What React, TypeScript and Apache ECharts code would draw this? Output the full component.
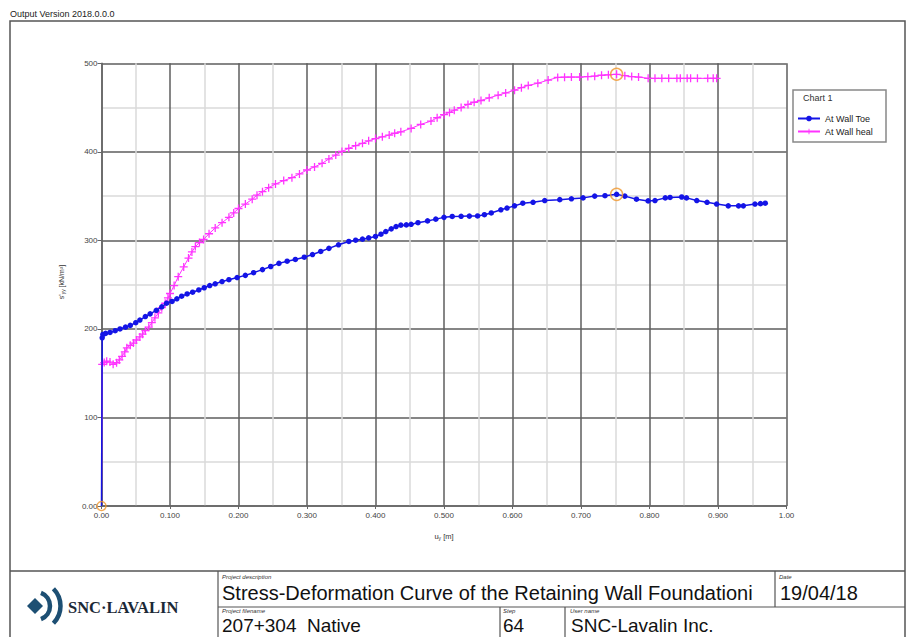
import React, { useEffect, useRef } from "react";
import * as echarts from "echarts";

// ---- Data ----
const toeX = [0, 0.001, 0.002, 0.006, 0.0124, 0.02, 0.027, 0.035, 0.042, 0.05, 0.056, 0.064, 0.071, 0.08, 0.088, 0.095, 0.103, 0.11, 0.117, 0.125, 0.133, 0.142, 0.15, 0.158, 0.166, 0.176, 0.186, 0.198, 0.21, 0.222, 0.235, 0.247, 0.259, 0.271, 0.283, 0.296, 0.308, 0.32, 0.332, 0.346, 0.361, 0.371, 0.381, 0.39, 0.4, 0.408, 0.415, 0.423, 0.43, 0.437, 0.445, 0.452, 0.462, 0.476, 0.488, 0.5, 0.512, 0.525, 0.537, 0.549, 0.559, 0.569, 0.583, 0.592, 0.603, 0.615, 0.63, 0.647, 0.669, 0.686, 0.703, 0.72, 0.735, 0.752, 0.764, 0.781, 0.798, 0.808, 0.823, 0.83, 0.847, 0.854, 0.869, 0.884, 0.898, 0.915, 0.93, 0.937, 0.954, 0.962, 0.969];
const toeY = [0, 190, 193.7, 195, 196, 198, 200, 202, 204, 207, 210, 214, 217, 221, 225, 229, 231, 234, 237, 239.5, 241.5, 244, 246.5, 249, 251, 253.5, 255.6, 258, 260.5, 263.5, 267, 270.5, 274, 276.5, 278.5, 281, 284, 287.5, 291, 295, 298.8, 300.2, 301.4, 302.8, 304.4, 307, 310, 313, 315.6, 317.2, 317.5, 318.2, 320, 322, 324, 326, 327, 327.2, 327.4, 327.6, 329, 331, 334.5, 336.5, 339, 342, 343, 345, 346, 347, 348, 350, 350.5, 352, 350, 346.5, 344.6, 345, 348, 348.5, 349, 348, 345, 343, 341, 339, 339, 339, 341, 341.5, 342];

const healX = [0, 0.001, 0.004, 0.0076, 0.0124, 0.017, 0.022, 0.026, 0.03, 0.034, 0.037, 0.042, 0.0466, 0.051, 0.056, 0.06, 0.064, 0.069, 0.0735, 0.078, 0.083, 0.088, 0.093, 0.097, 0.1, 0.106, 0.112, 0.12, 0.127, 0.132, 0.137, 0.143, 0.149, 0.157, 0.166, 0.176, 0.186, 0.193, 0.2, 0.21, 0.22, 0.227, 0.235, 0.244, 0.254, 0.266, 0.278, 0.289, 0.3, 0.311, 0.322, 0.332, 0.342, 0.351, 0.361, 0.371, 0.381, 0.39, 0.4, 0.41, 0.42, 0.428, 0.437, 0.452, 0.466, 0.481, 0.49, 0.5, 0.508, 0.515, 0.525, 0.535, 0.544, 0.554, 0.566, 0.579, 0.59, 0.603, 0.613, 0.623, 0.637, 0.652, 0.666, 0.676, 0.686, 0.698, 0.71, 0.72, 0.73, 0.74, 0.752, 0.764, 0.774, 0.784, 0.798, 0.808, 0.818, 0.828, 0.84, 0.845, 0.855, 0.86, 0.87, 0.885, 0.893, 0.898];
const healY = [0, 160, 162, 163.6, 162.5, 160, 161.8, 165, 169, 174, 178.7, 181.5, 184, 187.5, 191, 194, 198, 202, 207, 212.5, 218, 224, 229, 235, 240, 249, 259, 270, 280, 287, 293, 297.5, 301, 307.5, 314, 320, 326, 331, 336, 341, 346.5, 351, 355, 359.5, 363.7, 367.5, 370.8, 375, 379.5, 383, 387, 392, 396.4, 400.5, 404, 407, 409.6, 412.5, 415, 417, 419, 421, 422.6, 426.5, 431, 434.7, 438.5, 442, 444.5, 447, 450, 453.5, 456, 458, 461, 464, 466.5, 469.6, 472.5, 475, 477.5, 481, 484, 484.3, 484.5, 484.5, 485, 485.5, 486.5, 487, 487.6, 486, 485, 484.5, 483, 483, 483, 483, 483, 483, 483, 483, 483, 483, 483, 483];

const highlightX = [0, 0.752, 0.752];
const highlightY = [0, 352, 487.6];

const seriesNames = ["At Wall Toe", "At Wall heal"];

const FONT = "'Liberation Sans', Arial, sans-serif";
const PLUS = "path://M4.2,0h1.6v4.2h4.2v1.6h-4.2v4.2h-1.6v-4.2h-4.2v-1.6h4.2z";

function xFmt(v: number) {
  if (v === 0) return "0.00";
  if (Math.abs(v - 1) < 1e-9) return "1.00";
  return v.toFixed(3);
}
function yFmt(v: number) {
  return v === 0 ? "0.00" : String(Math.round(v));
}

export default function App() {
  const ref = useRef<HTMLDivElement>(null);
  useEffect(() => {
    if (!ref.current) return;
    const chart = echarts.init(ref.current, null, { renderer: "svg" });
    const toeData: any[] = toeX.map((x, i) => [x, toeY[i]]);
    toeData[0] = { value: [toeX[0], toeY[0]], symbol: "none" };
    const healData: any[] = healX.map((x, i) => [x, healY[i]]);
    healData[0] = { value: [healX[0], healY[0]], symbol: "none" };
    const hl: any[] = highlightX.map((x, i) => [x, highlightY[i]]);
    hl[0] = { value: [highlightX[0], highlightY[0]], symbolSize: 9 };

    const small = { fontSize: 6, fontStyle: "italic", fill: "#333", fontFamily: FONT };
    const big = { fontSize: 20, fill: "#111", fontFamily: FONT };
    const big2 = { fontSize: 19, fill: "#111", fontFamily: FONT };
    const frame = "#555";

    const option: any = {
      animation: false,
      backgroundColor: "#fff",
      textStyle: { fontFamily: FONT },
      grid: { left: 101.5, top: 63.3, width: 685, height: 442.7, show: false },
      legend: {
        data: seriesNames,
        orient: "vertical",
        left: 797,
        top: 114,
        itemWidth: 22,
        itemHeight: 7,
        itemGap: 4,
        padding: 0,
        textStyle: { fontSize: 9, color: "#222", fontFamily: FONT },
      },
      xAxis: {
        type: "value",
        min: 0,
        max: 1,
        interval: 0.1,
        axisLine: { show: true, onZero: false, lineStyle: { color: "#666", width: 1.5 } },
        axisTick: { show: true, length: 3, lineStyle: { color: "#666" } },
        axisLabel: { fontSize: 8, color: "#444", margin: 5, formatter: xFmt },
        splitLine: { show: true, lineStyle: { color: "#5e5e5e", width: 1.5 } },
        minorTick: { show: false, splitNumber: 2 },
        minorSplitLine: { show: true, lineStyle: { color: "#dadada", width: 1.5 } },
      },
      yAxis: {
        type: "value",
        min: 0,
        max: 500,
        interval: 100,
        axisLine: { show: true, onZero: false, lineStyle: { color: "#666", width: 1.5 } },
        axisTick: { show: true, length: 4, lineStyle: { color: "#666" } },
        axisLabel: { fontSize: 8, color: "#444", margin: 4, formatter: yFmt },
        splitLine: { show: true, lineStyle: { color: "#5e5e5e", width: 1.5 } },
        minorTick: { show: false, splitNumber: 2 },
        minorSplitLine: { show: true, lineStyle: { color: "#dadada", width: 1.5 } },
      },
      series: [
        {
          name: seriesNames[0],
          type: "line",
          data: toeData,
          symbol: "circle",
          symbolSize: 5.5,
          showSymbol: true,
          itemStyle: { color: "#1414e6" },
          lineStyle: { color: "#1414e6", width: 1.5 },
          z: 3,
        },
        {
          name: seriesNames[1],
          type: "line",
          data: healData,
          symbol: PLUS,
          symbolSize: 8,
          showSymbol: true,
          itemStyle: { color: "#ff33ff" },
          lineStyle: { color: "#ff33ff", width: 1 },
          z: 2,
        },
        {
          name: "highlight",
          type: "scatter",
          data: hl,
          symbol: "circle",
          symbolSize: 12,
          itemStyle: { color: "rgba(0,0,0,0)", borderColor: "#f0962a", borderWidth: 1.5 },
          z: 4,
        },
      ],
      graphic: [
        { type: "text", left: 10, top: 9, style: { text: "Output Version 2018.0.0.0", fontSize: 9, fill: "#222", fontFamily: FONT } },
        { type: "rect", shape: { x: 10, y: 21, width: 895, height: 625 }, style: { fill: "none", stroke: frame, lineWidth: 1.5 }, silent: true },
        // y-axis name
        {
          type: "text",
          x: 61,
          y: 282,
          rotation: Math.PI / 2,
          style: {
            text: "s'{sub|yy} [kN/m²]",
            align: "center",
            verticalAlign: "middle",
            fontSize: 7,
            fill: "#333",
            fontFamily: FONT,
            rich: { sub: { fontSize: 5, fill: "#333", padding: [4, 0, 0, 0] } },
          },
        },
        // x-axis name
        {
          type: "text",
          x: 444,
          y: 536,
          style: {
            text: "u{sub|y} [m]",
            align: "center",
            verticalAlign: "middle",
            fontSize: 7.5,
            fill: "#333",
            fontFamily: FONT,
            rich: { sub: { fontSize: 5, fill: "#333", padding: [4, 0, 0, 0] } },
          },
        },
        // legend box
        { type: "rect", shape: { x: 793, y: 90, width: 93, height: 52 }, style: { fill: "none", stroke: "#888", lineWidth: 1.5 }, silent: true },
        { type: "text", x: 803, y: 98, style: { text: "Chart 1", fontSize: 9, fill: "#333", verticalAlign: "middle", fontFamily: FONT } },
        // footer lines
        { type: "line", shape: { x1: 10, y1: 571, x2: 905, y2: 571 }, style: { stroke: frame, lineWidth: 1.5 } },
        { type: "line", shape: { x1: 218, y1: 571, x2: 218, y2: 637 }, style: { stroke: frame, lineWidth: 1.2 } },
        { type: "line", shape: { x1: 218, y1: 607, x2: 905, y2: 607 }, style: { stroke: frame, lineWidth: 1.2 } },
        { type: "line", shape: { x1: 775, y1: 571, x2: 775, y2: 607 }, style: { stroke: frame, lineWidth: 1.2 } },
        { type: "line", shape: { x1: 500, y1: 607, x2: 500, y2: 637 }, style: { stroke: frame, lineWidth: 1.2 } },
        { type: "line", shape: { x1: 565, y1: 607, x2: 565, y2: 637 }, style: { stroke: frame, lineWidth: 1.2 } },
        // footer texts
        { type: "text", x: 222, y: 577, style: { ...small, text: "Project description", verticalAlign: "middle" } },
        { type: "text", x: 222, y: 593, style: { ...big, text: "Stress-Deformation Curve of the Retaining Wall Foundationi", verticalAlign: "middle" } },
        { type: "text", x: 779, y: 577, style: { ...small, text: "Date", verticalAlign: "middle" } },
        { type: "text", x: 780, y: 593, style: { ...big, text: "19/04/18", verticalAlign: "middle" } },
        { type: "text", x: 222, y: 611, style: { ...small, text: "Project filename", verticalAlign: "middle" } },
        { type: "text", x: 222, y: 625, style: { ...big2, text: "207+304  Native", verticalAlign: "middle" } },
        { type: "text", x: 503, y: 611, style: { ...small, text: "Step", verticalAlign: "middle" } },
        { type: "text", x: 503, y: 625, style: { ...big2, text: "64", verticalAlign: "middle" } },
        { type: "text", x: 570, y: 611, style: { ...small, text: "User name", verticalAlign: "middle" } },
        { type: "text", x: 571, y: 625, style: { ...big2, text: "SNC-Lavalin Inc.", verticalAlign: "middle" } },
        // logo
        { type: "polygon", shape: { points: [[27, 606], [35, 598], [43, 606], [35, 614]] }, style: { fill: "#1d4f73" } },
        { type: "arc", shape: { cx: 36, cy: 606, r: 14, startAngle: -Math.PI / 2.6, endAngle: Math.PI / 2.6 }, style: { stroke: "#1d4f73", lineWidth: 4.5, fill: "none" } },
        { type: "arc", shape: { cx: 36, cy: 606, r: 24.5, startAngle: -0.78, endAngle: 0.78 }, style: { stroke: "#1d4f73", lineWidth: 4.5, fill: "none" } },
        { type: "text", x: 68, y: 607, style: { text: "SNC·LAVALIN", fontSize: 16.5, fontWeight: "bold", fill: "#1b2836", verticalAlign: "middle", fontFamily: "'Liberation Serif', 'DejaVu Serif', serif" } },
      ],
    };
    chart.setOption(option);
    return () => chart.dispose();
  }, []);
  return (
    <div
      ref={ref}
      style={{ position: "fixed", left: 0, top: 0, width: 908, height: 637, background: "#fff" }}
    />
  );
}
